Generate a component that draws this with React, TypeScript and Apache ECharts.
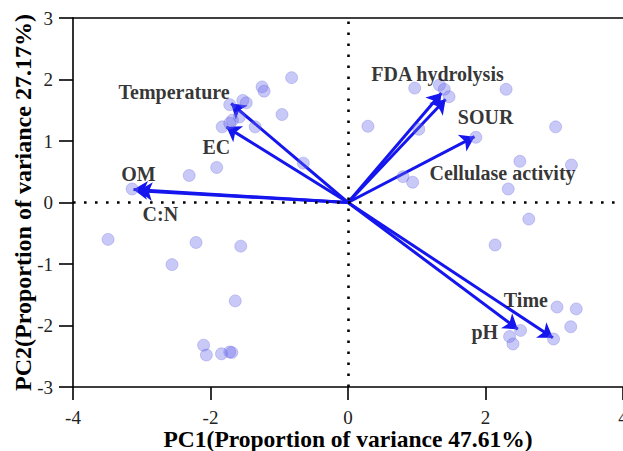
import React, { useEffect, useRef } from "react";
import * as echarts from "echarts";

// Sample scores on the first two principal components
const pc1 = [
  -0.82, -1.25, -1.22, -1.72, -1.53, -1.48, -0.96, -1.58, -1.68, -1.83, -1.35, -1.72,
  -0.65, -1.91, -2.31, -3.14, 0.97, 1.33, 1.4, 1.47, 2.3, 0.29, 1.03, 1.86, 3.02,
  0.8, 0.94, 2.5, 3.25, 2.33, 2.63, -3.49, -2.56, -2.21, -1.56, -1.64, -2.1, -2.06,
  -1.84, -1.72, -1.69, 2.14, 3.04, 3.32, 3.24, 2.51, 2.35, 2.4, 2.99,
];
const pc2 = [
  2.03, 1.88, 1.81, 1.59, 1.66, 1.62, 1.43, 1.39, 1.34, 1.23, 1.23, 1.29,
  0.64, 0.57, 0.44, 0.22, 1.86, 1.91, 1.84, 1.72, 1.84, 1.24, 1.19, 1.06, 1.23,
  0.42, 0.33, 0.67, 0.61, 0.22, -0.27, -0.6, -1.01, -0.65, -0.71, -1.6, -2.32, -2.48,
  -2.46, -2.43, -2.44, -0.69, -1.7, -1.73, -2.02, -2.08, -2.18, -2.3, -2.22,
];

// Variable loadings (arrow tips)
const variables = [
  "Temperature", "EC", "OM", "C:N", "FDA hydrolysis", "SOUR", "Cellulase activity", "Time", "pH",
];
const loadX = [-1.7, -1.77, -3.12, -3.05, 1.36, 1.42, 1.84, 2.98, 2.47];
const loadY = [1.61, 1.23, 0.21, 0.19, 1.78, 1.68, 1.07, -2.2, -2.06];

// Axis ranges
const xRange = [-4, 4];
const yRange = [-3, 3];

// Pixel offsets of the variable names from their arrow tips
const labelOffset: Record<string, [number, number]> = {
  Temperature: [-57, -11],
  EC: [-10, 20],
  OM: [5, -16],
  "C:N": [22, 23],
  "FDA hydrolysis": [-4, -19],
  SOUR: [40, 18],
  "Cellulase activity": [28, 36],
  Time: [-27, -38],
  pH: [-33, 3],
};

const SERIF = '"Liberation Serif", "Times New Roman", serif';

export default function App() {
  const ref = useRef<HTMLDivElement>(null);

  useEffect(() => {
    if (!ref.current) return;
    const chart = echarts.init(ref.current, undefined, { renderer: "svg" });

    const scores = pc1.map((x, i) => [x, pc2[i]]);
    const arrows = variables.map((name, i) => ({
      name,
      coords: [
        [0, 0],
        [loadX[i], loadY[i]],
      ],
    }));
    const tips = variables.map((name, i) => ({
      name,
      value: [loadX[i], loadY[i]],
      label: { offset: labelOffset[name] },
    }));

    chart.setOption({
      animation: false,
      backgroundColor: "#ffffff",
      grid: {
        left: 73,
        right: 0,
        top: 18,
        bottom: 64,
        containLabel: false,
        outerBoundsMode: "none",
      },
      xAxis: [
        {
          type: "value",
          min: xRange[0],
          max: xRange[1],
          interval: 2,
          name: "PC1(Proportion of variance 47.61%)",
          nameLocation: "middle",
          nameGap: 40,
          nameMoveOverlap: false,
          nameTextStyle: { fontFamily: SERIF, fontWeight: "bold", fontSize: 23.5, color: "#000" },
          axisLine: { onZero: false, lineStyle: { color: "#000", width: 1.6 } },
          axisTick: { show: true, length: 13, lineStyle: { color: "#000", width: 1.6 } },
          axisLabel: { fontFamily: SERIF, fontSize: 19, color: "#222", margin: 21 },
          splitLine: { show: false },
        },
        {
          type: "value",
          position: "top",
          min: xRange[0],
          max: xRange[1],
          interval: 2,
          axisLine: { onZero: false, lineStyle: { color: "#000", width: 1.6 } },
          axisTick: { show: false },
          axisLabel: { show: false },
          splitLine: { show: false },
        },
      ],
      yAxis: {
        type: "value",
        min: yRange[0],
        max: yRange[1],
        interval: 1,
        name: "PC2(Proportion of variance 27.17%)",
        nameLocation: "middle",
        nameGap: 38,
        nameMoveOverlap: false,
        nameTextStyle: { fontFamily: SERIF, fontWeight: "bold", fontSize: 24, color: "#000" },
        axisLine: { show: true, onZero: false, lineStyle: { color: "#000", width: 1.6 } },
        axisTick: { show: true, length: 14, lineStyle: { color: "#000", width: 1.6 } },
        axisLabel: { fontFamily: SERIF, fontSize: 19, color: "#222", margin: 20 },
        splitLine: { show: false },
      },
      series: [
        {
          type: "lines",
          coordinateSystem: "cartesian2d",
          xAxisIndex: 0,
          yAxisIndex: 0,
          z: 3,
          symbol: ["none", "arrow"],
          symbolSize: 14,
          lineStyle: { color: "#1515ee", width: 3, opacity: 1 },
          data: arrows,
          silent: true,
        },
        {
          type: "scatter",
          xAxisIndex: 0,
          yAxisIndex: 0,
          z: 4,
          symbolSize: 12,
          itemStyle: {
            color: "rgba(105,105,235,0.45)",
            borderColor: "rgba(90,90,220,0.35)",
            borderWidth: 1,
          },
          data: scores,
          markLine: {
            silent: true,
            symbol: ["none", "none"],
            label: { show: false },
            lineStyle: { color: "#000", width: 2.6, type: [2.6, 8.4] },
            data: [{ xAxis: 0 }, { yAxis: 0 }],
          },
        },
        {
          type: "scatter",
          xAxisIndex: 0,
          yAxisIndex: 0,
          z: 5,
          symbolSize: 0,
          silent: true,
          label: {
            show: true,
            position: "inside",
            formatter: "{b}",
            fontFamily: SERIF,
            fontWeight: "bold",
            fontSize: 20,
            color: "#000",
          },
          data: tips,
        },
      ],
    });

    return () => chart.dispose();
  }, []);

  return (
    <div
      ref={ref}
      style={{ position: "fixed", left: 0, top: 0, width: 623, height: 451, background: "#fff" }}
    />
  );
}
